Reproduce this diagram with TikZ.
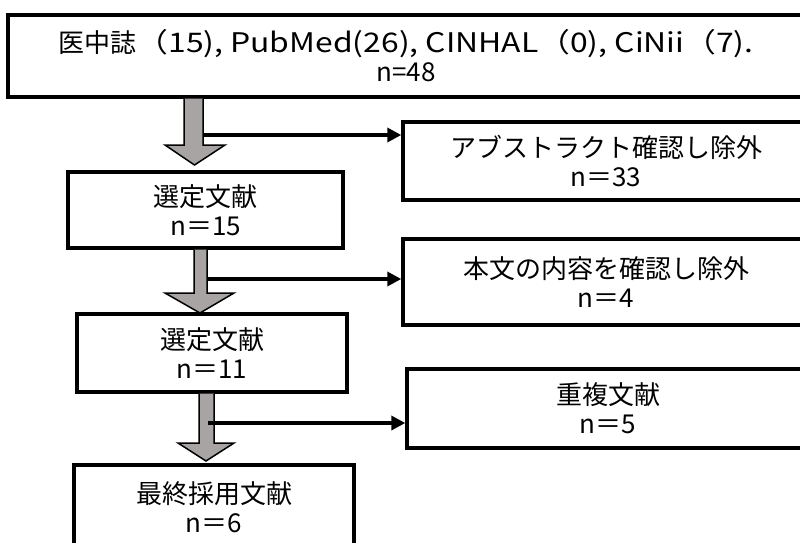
\documentclass[tikz,border=0pt]{standalone}
\usepackage{fontspec}
\setmainfont{Noto Sans CJK JP}
\usetikzlibrary{arrows.meta,calc}
\definecolor{blockgray}{RGB}{168,164,164}
\tikzset{
  box/.style={draw=black, line width=3.4pt, fill=white, align=center, inner sep=0pt,
    font=\fontsize{26}{29}\selectfont},
  blockarrow/.style={draw=black, line width=1.5pt, fill=blockgray, line join=miter},
  conn/.style={draw=black, line width=3.4pt, -{Triangle[length=14pt,width=14pt]}}
}
\begin{document}
\begin{tikzpicture}[x=1pt,y=-1pt]
\useasboundingbox (0,0) rectangle (800,542);
\clip (0,0) rectangle (800,542);
% boxes
\node[box, minimum width=796pt, minimum height=82pt] (t) at (406,56)
  {医中誌\scalebox{1.18}[1]{\fontsize{27}{29}\selectfont （15), PubMed(26), CINHAL（0), CiNii（7).}\\n=48};
\node[box, minimum width=275pt, minimum height=76pt] (s1) at (205.5,210) {選定文献\\n＝15};
\node[box, minimum width=406pt, minimum height=78pt] (a) at (606,161) {アブストラクト確認し除外\\n＝33};
\node[box, minimum width=406pt, minimum height=86pt] (b) at (606,282) {本文の内容を確認し除外\\n＝4};
\node[box, minimum width=270pt, minimum height=78pt] (s2) at (212,353) {選定文献\\n＝11};
\node[box, minimum width=402pt, minimum height=79pt] (c) at (608,408.5) {重複文献\\n＝5};
\node[box, minimum width=280pt, minimum height=85pt] (f) at (214,507.5) {最終採用文献\\n＝6};
% gray block arrows
\draw[blockarrow] (184,98.5) -- (184,145) -- (165,145) -- (194.5,165) -- (225,145) -- (203,145) -- (203,98.5);
\draw[blockarrow] (194,249.5) -- (194,293) -- (165,293) -- (200,313) -- (234,293) -- (207,293) -- (207,249.5);
\draw[blockarrow] (199,393.5) -- (199,443) -- (178,443) -- (206,461) -- (234,443) -- (214,443) -- (214,393.5);
% connectors
\coordinate (c1) at (203,135);
\coordinate (c2) at (207,279);
\coordinate (c3) at (208,423);
\draw[conn] (c1) -- (c1 -| a.west);
\draw[conn] (c2) -- (c2 -| b.west);
\draw[conn] (c3) -- (c3 -| c.west);
\end{tikzpicture}
\end{document}
